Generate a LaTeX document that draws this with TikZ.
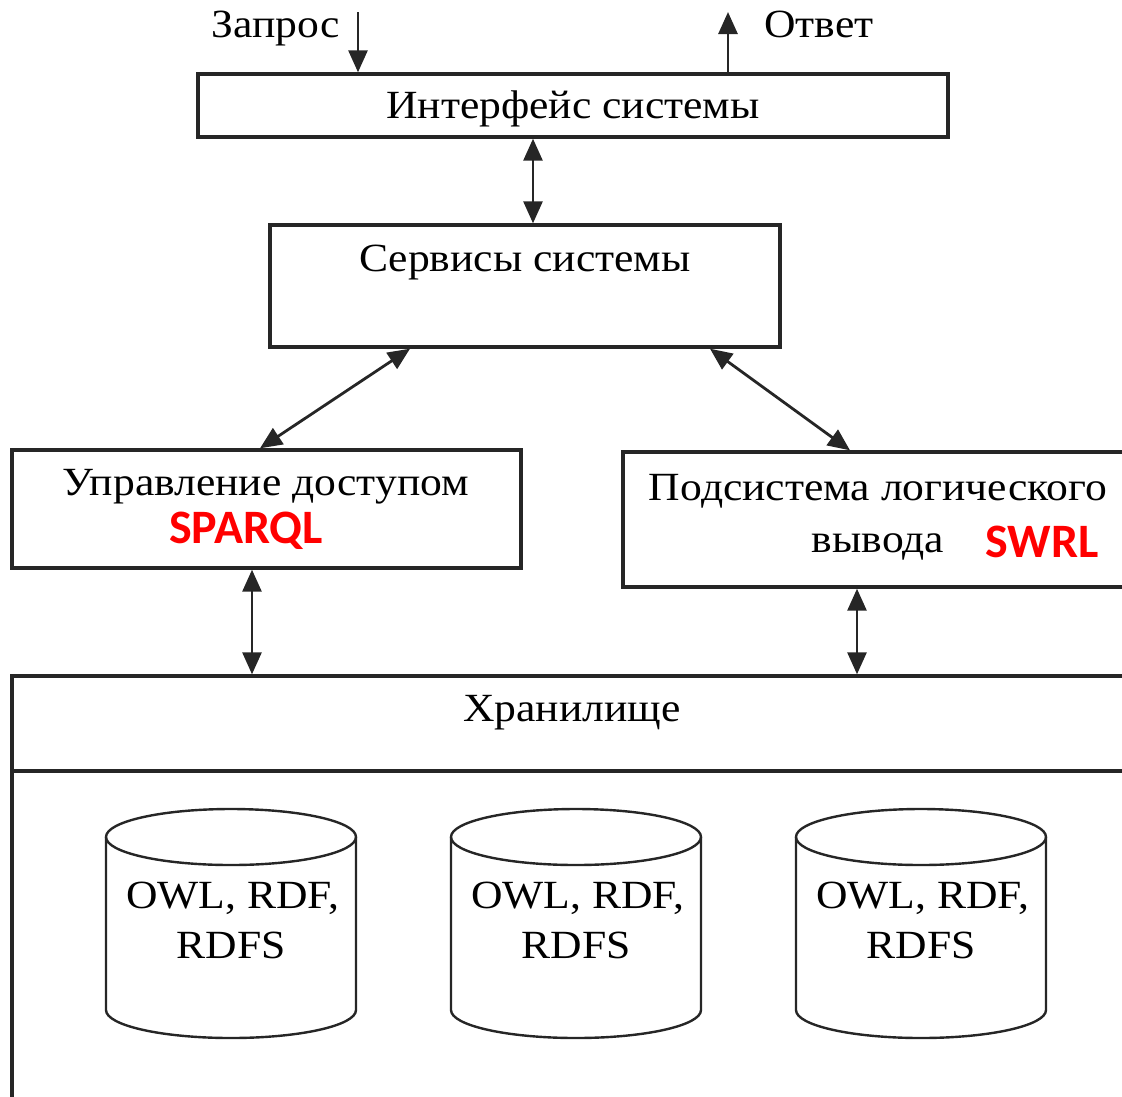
\documentclass[tikz,border=0pt]{standalone}
\usepackage{fontspec}
\setmainfont{Liberation Serif}
\newfontfamily\labelfont[FakeStretch=1.09]{Liberation Serif}
\newfontfamily\tagfont[BoldFont={* Bold}]{Carlito}
\usetikzlibrary{arrows.meta}

\tikzset{
  box/.style={draw=black!85, line width=3.4pt, rectangle, inner sep=0pt},
  lbl/.style={text=black, font=\labelfont\fontsize{40}{46}\selectfont, inner sep=0pt, anchor=base},
  tag/.style={text=red, font=\tagfont\bfseries\fontsize{48}{54}\selectfont, inner sep=0pt, anchor=base},
  tip/.style={Triangle[length=22pt,width=19pt]},
  link/.style={draw=black!85, line width=2.8pt, -{Triangle[length=22pt,width=19pt]}},
  dbl/.style={draw=black!85, line width=2.8pt, {Triangle[length=22pt,width=19pt]}-{Triangle[length=22pt,width=19pt]}},
  cyl/.style={draw=black!85, line width=2.4pt}
}

\begin{document}
\begin{tikzpicture}[x=1pt,y=-1pt]
\useasboundingbox (0,0) rectangle (1122,1096);
\clip (0,0) rectangle (1122,1096);

% boxes
\node[box, minimum width=750pt, minimum height=63pt] (iface) at (573,105.5) {};
\node[box, minimum width=510pt, minimum height=122pt] (srv) at (525,286) {};
\node[box, minimum width=509pt, minimum height=118pt] (acc) at (266.5,509) {};
\node[box, minimum width=537pt, minimum height=135pt] (logic) at (891.5,519.5) {};
\node[box, minimum width=1148pt, minimum height=454pt] (store) at (586,903) {};
\draw[draw=black!85, line width=3.4pt] (store.west |- 0,771) -- (store.east |- 0,771);

% box labels (placed on their baselines)
\node[lbl] (ifaceT) at (573,118) {Интерфейс системы};
\node[lbl] (srvT) at (525,271) {Сервисы системы};
\node[lbl] (accT) at (266,495) {Управление доступом};
\node[tag] (sparql) at (246,543) {SPARQL};
\node[lbl] (logicT1) at (878,500) {Подсистема логического};
\node[lbl] (logicT2) at (878,552) {вывода};
\node[tag] (swrl) at (1042,557) {SWRL};
\node[lbl] (storeT) at (572,721) {Хранилище};

% request and answer
\coordinate (reqStart) at (358,12);
\coordinate (ansEnd) at (728,12);
\node[lbl, anchor=base east] (req) at (340,37) {Запрос};
\node[lbl, anchor=base west] (ans) at (764,37) {Ответ};
\draw[link] (reqStart) -- (reqStart |- iface.north);
\draw[link] (ansEnd |- iface.north) -- (ansEnd);

% connectors between blocks
\draw[dbl] ([xshift=-40pt]iface.south) -- ([xshift=8pt]srv.north);
\draw[dbl] ([xshift=-115pt]srv.south) -- ([xshift=-6.5pt]acc.north);
\draw[dbl] ([xshift=185pt]srv.south) -- ([xshift=-41.5pt]logic.north);
\draw[dbl] ([xshift=-14.5pt]acc.south) -- ([xshift=-14.5pt]acc.south |- store.north);
\draw[dbl] ([xshift=-34.5pt]logic.south) -- ([xshift=-34.5pt]logic.south |- store.north);

% ontology stores
\foreach \cx/\nm in {231/a, 576/b, 921/c}{
  \draw[cyl, fill=white] (\cx-125,837) -- (\cx-125,1010)
    arc[start angle=180, end angle=360, x radius=125, y radius=-28]
    -- (\cx+125,837);
  \draw[cyl] (\cx,837) ellipse[x radius=125, y radius=28];
  \node[lbl] (db\nm1) at (\cx+2,908) {OWL, RDF,};
  \node[lbl] (db\nm2) at (\cx,958) {RDFS};
}
\end{tikzpicture}
\end{document}
